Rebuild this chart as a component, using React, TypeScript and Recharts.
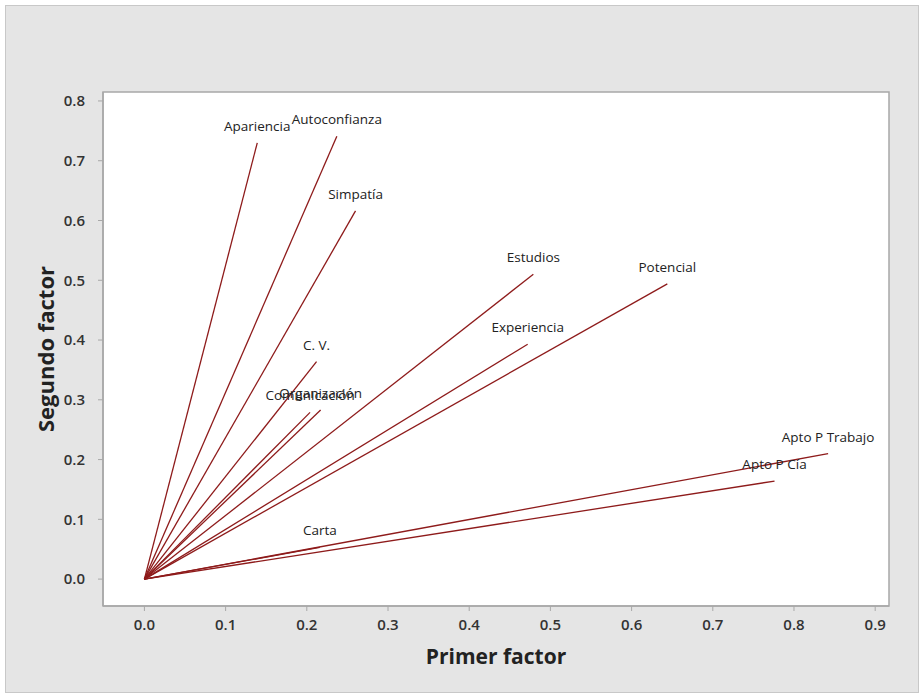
import { ComposedChart, Line, Scatter, XAxis, YAxis, ReferenceArea } from "recharts";

// Loadings for each variable: first factor (x) and second factor (y).
const VARIABLES = [
  "Apariencia",
  "Autoconfianza",
  "Simpatía",
  "Estudios",
  "Potencial",
  "Experiencia",
  "C. V.",
  "Organización",
  "Comunicación",
  "Apto P Trabajo",
  "Apto P Cía",
  "Carta",
];
const PRIMER_FACTOR = [0.139, 0.237, 0.26, 0.479, 0.644, 0.472, 0.212, 0.217, 0.204, 0.842, 0.776, 0.216];
const SEGUNDO_FACTOR = [0.73, 0.741, 0.616, 0.51, 0.494, 0.393, 0.364, 0.283, 0.279, 0.21, 0.164, 0.053];

const X_TICKS = [0, 0.1, 0.2, 0.3, 0.4, 0.5, 0.6, 0.7, 0.8, 0.9];
const Y_TICKS = [0, 0.1, 0.2, 0.3, 0.4, 0.5, 0.6, 0.7, 0.8];

const X_DOMAIN: [number, number] = [-0.051, 0.917];
const Y_DOMAIN: [number, number] = [-0.045, 0.815];

const FONT = "'Open Sans', 'Noto Sans', sans-serif";
const LINE_COLOR = "#8e1b1b";

const endpoints = VARIABLES.map((name, i) => ({
  name,
  x: PRIMER_FACTOR[i],
  y: SEGUNDO_FACTOR[i],
}));

function NameLabel(props: any) {
  const { cx, cy, payload } = props;
  return (
    <text
      x={cx}
      y={cy - 12}
      textAnchor="middle"
      fontFamily={FONT}
      fontSize={13.5}
      fill="#222"
    >
      {payload.name}
    </text>
  );
}

const tickStyle = { fontFamily: FONT, fontSize: 15, fontWeight: 600, fill: "#333" };

export default function App() {
  return (
    <div
      style={{
        position: "absolute",
        left: 0,
        top: 0,
        width: 920,
        height: 694,
        background: "#fff",
      }}
    >
      <div
        style={{
          position: "absolute",
          left: 5,
          top: 5,
          width: 912,
          height: 686,
          background: "#e5e5e5",
          border: "1px solid #c8c8c8",
        }}
      />
      <div style={{ position: "absolute", left: 0, top: 0 }}>
        <ComposedChart
          width={920}
          height={694}
          margin={{ top: 92, right: 31, bottom: 28, left: 43 }}
        >
          <XAxis
            type="number"
            dataKey="x"
            domain={X_DOMAIN}
            ticks={X_TICKS}
            allowDataOverflow
            height={60}
            tickSize={5}
            tickMargin={8}
            tickFormatter={(v: number) => v.toFixed(1)}
            tick={tickStyle}
            axisLine={{ stroke: "#a8a8a8", strokeWidth: 1.5 }}
            tickLine={{ stroke: "#a8a8a8" }}
            label={{
              value: "Primer factor",
              position: "insideBottom",
              offset: 2,
              style: { fontFamily: FONT, fontSize: 21, fontWeight: 700, fill: "#222" },
            }}
          />
          <YAxis
            type="number"
            dataKey="y"
            domain={Y_DOMAIN}
            ticks={Y_TICKS}
            allowDataOverflow
            width={60}
            tickSize={5}
            tickMargin={13}
            tickFormatter={(v: number) => v.toFixed(1)}
            tick={tickStyle}
            axisLine={{ stroke: "#a8a8a8", strokeWidth: 1.5 }}
            tickLine={{ stroke: "#a8a8a8" }}
            label={{
              content: ({ viewBox }: any) => {
                const cx = viewBox.x + 2;
                const cy = viewBox.y + viewBox.height / 2;
                return (
                  <text
                    x={cx}
                    y={cy}
                    transform={`rotate(-90 ${cx} ${cy})`}
                    textAnchor="middle"
                    dominantBaseline="central"
                    fontFamily={FONT}
                    fontSize={22}
                    fontWeight={700}
                    fill="#222"
                  >
                    Segundo factor
                  </text>
                );
              },
            }}
          />
          <ReferenceArea
            x1={X_DOMAIN[0]}
            x2={X_DOMAIN[1]}
            y1={Y_DOMAIN[0]}
            y2={Y_DOMAIN[1]}
            fill="#ffffff"
            fillOpacity={1}
            stroke="#a8a8a8"
            strokeWidth={1.5}
          />
          {endpoints.map((p) => (
            <Line
              key={p.name}
              data={[
                { x: 0, y: 0 },
                { x: p.x, y: p.y },
              ]}
              dataKey="y"
              stroke={LINE_COLOR}
              strokeWidth={1.3}
              dot={false}
              activeDot={false}
              legendType="none"
              isAnimationActive={false}
            />
          ))}
          <Scatter
            data={endpoints}
            dataKey="y"
            shape={NameLabel}
            isAnimationActive={false}
          />
        </ComposedChart>
      </div>
    </div>
  );
}
